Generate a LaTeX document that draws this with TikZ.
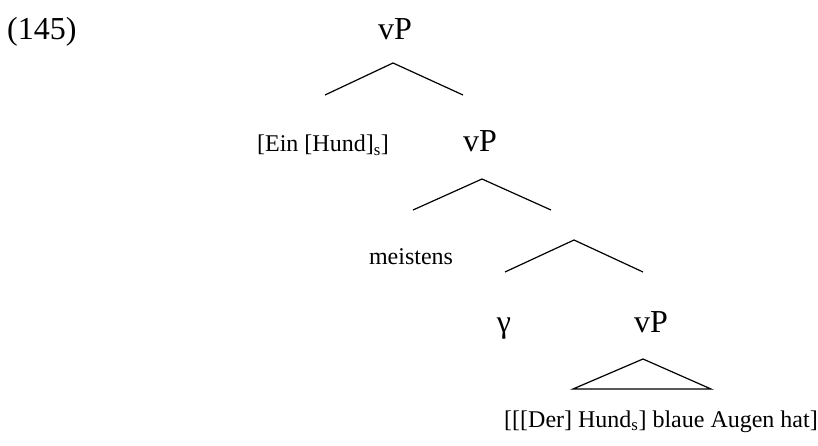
\documentclass[tikz,border=0pt]{standalone}
\usepackage{fontspec}
\setmainfont{Liberation Serif}
\begin{document}
\begin{tikzpicture}[x=1pt,y=-1pt,
  big/.style={font=\fontsize{32}{38}\selectfont, inner sep=0pt, anchor=base},
  small/.style={font=\fontsize{24}{29}\selectfont, inner sep=0pt, anchor=base},
  branch/.style={line width=1.2pt}]
\useasboundingbox (0,0) rectangle (818,446);
\node[big, anchor=base west] (ex) at (7,40) {(145)};
\node[big] (vp1) at (395,40) {vP};
\node[small] (ein) at (323,152) {[Ein [Hund]\textsubscript{s}]};
\node[big] (vp2) at (480,152) {vP};
\node[small] (meist) at (411,264) {meistens};
\node[big] (gam) at (504,332) {γ};
\node[big] (vp3) at (651,332) {vP};
\node[small] (bot) at (661,427) {[[[Der] Hund\textsubscript{s}] blaue Augen hat]};
\coordinate (a1) at (393,63); \coordinate (l1) at (325,95); \coordinate (r1) at (463,95);
\coordinate (a2) at (482,179); \coordinate (l2) at (413,210); \coordinate (r2) at (551,210);
\coordinate (a3) at (574,240); \coordinate (l3) at (505,272); \coordinate (r3) at (643,272);
\coordinate (a4) at (643,359); \coordinate (l4) at (573,389); \coordinate (r4) at (711,389);
\draw[branch] (l1) -- (a1) -- (r1);
\draw[branch] (l2) -- (a2) -- (r2);
\draw[branch] (l3) -- (a3) -- (r3);
\draw[branch] (a4) -- (l4) -- (r4) -- cycle;
\end{tikzpicture}
\end{document}
